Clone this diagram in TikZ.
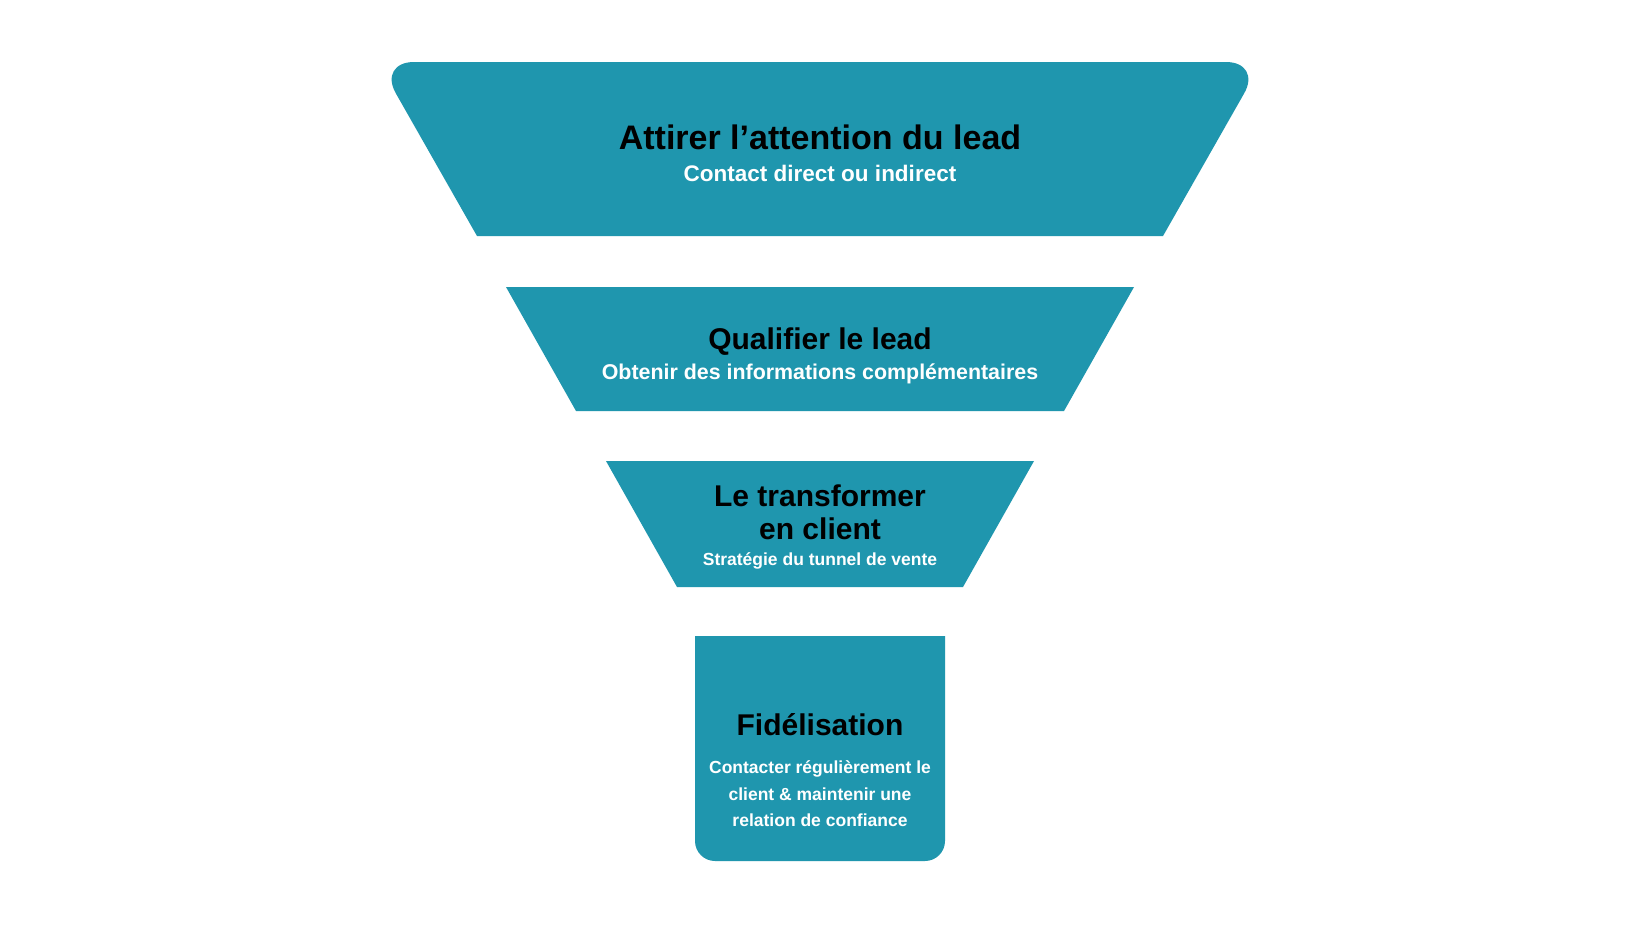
\documentclass[tikz,border=0pt]{standalone}
\usepackage{fontspec}
\setmainfont{Liberation Sans}
\usetikzlibrary{positioning}
\definecolor{myteal}{HTML}{1F96AE}

\begin{document}
\begin{tikzpicture}[
    x=1pt, y=-1pt,
    % Estilos de las franjas
    band/.style={fill=myteal},
    % Estilos de los textos
    stagetitle/.style={anchor=base, align=center, inner sep=0pt, text=black},
    stagetext/.style={anchor=base, align=center, inner sep=0pt, text=white},
    bigfont/.style={font=\bfseries\fontsize{34}{36}\selectfont},
    midfont/.style={font=\bfseries\fontsize{30}{32.6}\selectfont},
    smallfont/.style={font=\bfseries\fontsize{17.5}{26.7}\selectfont}
]

% -- Marco --
\fill[white] (0,0) rectangle (1640,924);
\useasboundingbox (0,0) rectangle (1640,924);

% -- Franjas del embudo --
\fill[band] (477,236) [rounded corners=36] -- (378,62) -- (1262,62) [sharp corners] -- (1163,236) -- cycle;
\fill[band] (506,287) -- (1134,287) -- (1064,411) -- (576,411) -- cycle;
\fill[band] (606,461) -- (1034,461) -- (963,587) -- (677,587) -- cycle;
\fill[band] (695,636) -- (945,636) [rounded corners=20] -- (945,861) -- (695,861) [sharp corners] -- (695,636) -- cycle;

% -- Etapa 1 --
\node[stagetitle, bigfont] (attirer) at (820,149.3) {Attirer l’attention du lead};
\node[stagetext, font=\bfseries\fontsize{22.5}{26}\selectfont] (contact) at (820,181.7) {Contact direct ou indirect};

% -- Etapa 2 --
\node[stagetitle, midfont] (qualifier) at (820,349.3) {Qualifier le lead};
\node[stagetext, font=\bfseries\fontsize{21.4}{26}\selectfont] (obtenir) at (820,379.3) {Obtenir des informations complémentaires};

% -- Etapa 3 (base = ultima linea) --
\node[stagetitle, midfont] (transformer) at (820,539.3) {Le transformer\\en client};
\node[stagetext, smallfont] (strategie) at (820,565) {Stratégie du tunnel de vente};

% -- Etapa 4 --
\node[stagetitle, midfont] (fidelisation) at (820,735) {Fidélisation};
\node[stagetext, smallfont] (contacter) at (820,826.7) {Contacter régulièrement le\\client \& maintenir une\\relation de confiance};

\end{tikzpicture}
\end{document}
